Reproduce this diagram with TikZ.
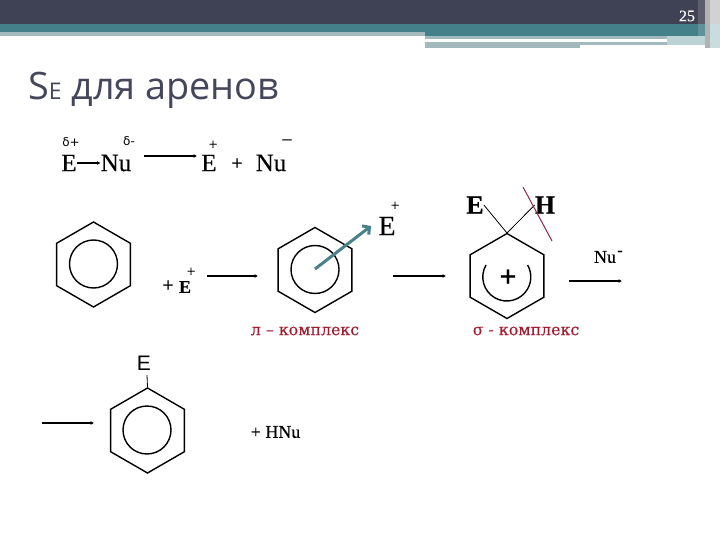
\documentclass[tikz,border=0pt]{standalone}
\usepackage{fontspec}
\usetikzlibrary{shapes.geometric,arrows.meta}
\newfontfamily\ttl{Open Sans}
\newfontfamily\ser[FakeBold=0.25]{DejaVu Serif}
\newfontfamily\sns{DejaVu Sans}
\newfontfamily\lsn{Liberation Sans}
\newfontfamily\chf[FakeBold=0.3]{Liberation Serif}
\definecolor{darkband}{HTML}{3F4254}
\definecolor{tealband}{HTML}{43808A}
\definecolor{paleband}{HTML}{A3BABC}
\definecolor{palerband}{HTML}{BCD3D6}
\definecolor{titlec}{HTML}{44465A}
\definecolor{redt}{HTML}{A01C30}
\definecolor{redl}{HTML}{8C2848}
\definecolor{arrowt}{HTML}{4A8088}
\tikzset{
 hexa/.style={draw=black,line width=1.4pt,regular polygon,regular polygon sides=6,shape border rotate=30,minimum size=85pt,inner sep=0pt},
 ringc/.style={draw=black,line width=1.4pt,circle,minimum size=48pt,inner sep=0pt},
 rarrow/.style={draw=black,line width=1.1pt,-{Latex[length=3.5pt,width=4pt]}},
 chem/.style={inner sep=0pt,font=\chf\fontsize{25}{25}\selectfont},
 small/.style={inner sep=0pt,font=\chf\fontsize{20}{20}\selectfont},
 tiny/.style={inner sep=0pt,font=\chf\fontsize{15}{15}\selectfont},
 delta/.style={inner sep=0pt,font=\sns\fontsize{12}{12}\selectfont},
 redlab/.style={inner sep=0pt,text=redt,font=\ser\fontsize{15.8}{16}\selectfont},
 bond/.style={draw=black,line width=.8pt}
}
\begin{document}
\begin{tikzpicture}[x=1pt,y=-1pt]
\useasboundingbox (0,0) rectangle (720,540);
% header bands
\fill[darkband] (0,0) rectangle (698,24);
\fill[tealband] (0,24) rectangle (698,32);
\fill[tealband] (425,32) rectangle (698,36);
\fill[paleband] (0,32) rectangle (425,36);
\fill[paleband] (425,36) rectangle (667,39);
\fill[white] (425,39) rectangle (667,42);
\fill[paleband] (425,42) rectangle (580,48);
\fill[paleband] (580,42) rectangle (667,45);
\fill[palerband] (667,36) rectangle (698,45);
\fill[darkband!85!white] (698,0) rectangle (705,24);
\fill[tealband!85!white] (698,24) rectangle (705,36);
\fill[palerband] (698,36) rectangle (705,45);
\fill[gray!60] (705,0) rectangle (710,48);
\fill[gray!35] (710,0) rectangle (720,24);
\fill[palerband!80!white] (710,24) rectangle (720,48);
\node[inner sep=0pt,text=white,font=\chf\fontsize{16}{16}\selectfont] (pg) at (687,16) {25};
% title
\node[anchor=base west,inner sep=0pt,text=titlec,font=\ttl\fontsize{37.8}{38}\selectfont] (title) at (28,100) {S{\fontsize{23}{23}\selectfont E} для аренов};
% first equation
\node[delta] (d1) at (71,142) {δ+};
\node[delta] (d2) at (129,141) {δ-};
\node[chem] (e1) at (69,163) {E};
\node[chem] (nu1) at (116,163) {Nu};
\draw[rarrow] (e1) -- (nu1);
\coordinate (a1s) at (144,156);
\coordinate (a1e) at (197,156);
\draw[rarrow] (a1s) -- (a1e);
\node[chem] (e2) at (209,163) {E};
\node[tiny] (ep) at (213,145) {+};
\node[small] (pl) at (237,164) {+};
\node[chem] (nu2) at (271,163) {Nu};
\node[small] (nm) at (287,143) {−};
% benzene 1
\node[hexa] (h1) at (93.5,264.5) {};
\node[ringc] (c1) at (93.5,264) {};
\node[small] (p2) at (168,286) {+};
\node[inner sep=0pt,font=\chf\bfseries\fontsize{18}{18}\selectfont] (e3) at (185,287) {E};
\node[tiny] (p3) at (191,272) {+};
\coordinate (a2s) at (207,276);
\coordinate (a2e) at (258,276);
\draw[rarrow] (a2s) -- (a2e);
% pi complex
\node[hexa] (h2) at (315,270) {};
\node[ringc] (c2) at (315,269.5) {};
\node[chem,font=\chf\fontsize{28}{28}\selectfont] (e4) at (387,226) {E};
\node[tiny] (p4) at (395,206) {+};
\coordinate (t1) at (315,269);
\coordinate (t2) at (371,226);
\draw[draw=arrowt,line width=3pt,-{Straight Barb[length=5pt,width=11pt]}] (t1) -- (t2);
\node[redlab] (pi) at (305,331) {л – комплекс};
% sigma complex
\coordinate (a3s) at (393,276);
\coordinate (a3e) at (446,276);
\draw[rarrow] (a3s) -- (a3e);
\node[hexa] (h3) at (507,276) {};
\coordinate (top3) at (507,233);
\node[chem,font=\chf\bfseries\fontsize{26}{26}\selectfont] (e5) at (475,205) {E};
\node[chem,font=\chf\bfseries\fontsize{26}{26}\selectfont] (hh) at (545,205) {H};
\draw[bond] (top3) -- (e5.east);
\draw[bond] (top3) -- (hh.west);
\coordinate (r1) at (523,187);
\coordinate (r2) at (552,241);
\draw[draw=redl,line width=1pt] (r1) -- (r2);
\draw[line width=1.4pt] (486,265) arc[start angle=150,end angle=390,radius=24pt];
\node[inner sep=0pt,font=\chf\bfseries\fontsize{30}{30}\selectfont] (pc) at (508,278) {+};
\node[redlab] (sg) at (526,331) {σ - комплекс};
\node[inner sep=0pt,font=\chf\fontsize{18}{18}\selectfont] (nu3) at (605,257) {Nu};
\node[inner sep=0pt,font=\chf\fontsize{16}{16}\selectfont] (nm3) at (620,253) {-};
\coordinate (a4s) at (569,281);
\coordinate (a4e) at (622,281);
\draw[rarrow] (a4s) -- (a4e);
% product
\coordinate (a5s) at (42,423);
\coordinate (a5e) at (94,423);
\draw[rarrow] (a5s) -- (a5e);
\node[hexa] (h4) at (147.5,430.5) {};
\node[ringc] (c4) at (147,430) {};
\node[inner sep=0pt,font=\lsn\fontsize{21}{21}\selectfont] (e6) at (144,363) {E};
\coordinate (e6b) at (147,375);
\draw[line width=.8pt] (e6b) -- (h4.north);
\node[inner sep=0pt,font=\chf\fontsize{18}{18}\selectfont] (hnu) at (275.5,432) {+ HNu};
\end{tikzpicture}
\end{document}
